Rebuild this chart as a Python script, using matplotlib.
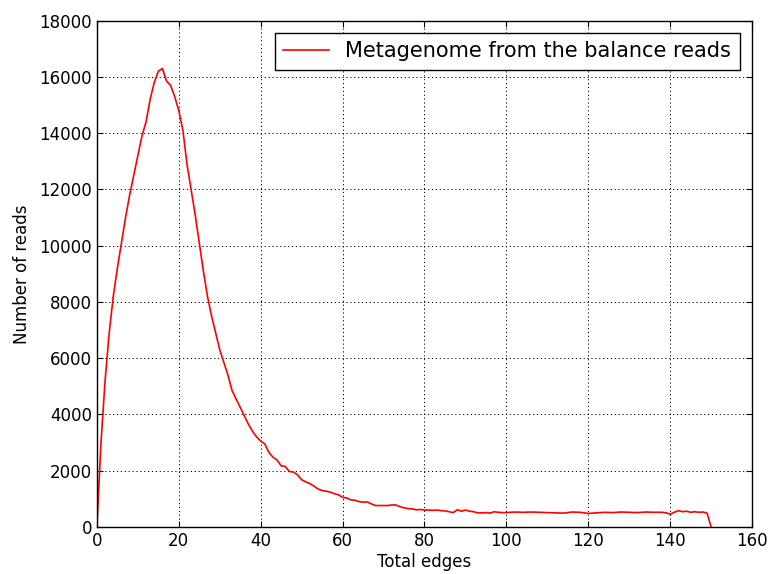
import matplotlib
matplotlib.use("Agg")
import matplotlib.pyplot as plt

# read counts per total-edge value
edges = [0, 1, 2, 3, 4, 5, 6, 7, 8, 9, 10, 11, 12, 13, 14, 15, 16, 17, 18, 19,
         20, 21, 22, 23, 24, 25, 26, 27, 28, 29, 30, 31, 32, 33, 34, 35, 36, 37, 38, 39,
         40, 41, 42, 43, 44, 45, 46, 47, 48, 49, 50, 51, 52, 53, 54, 55, 56, 57, 58, 59,
         60, 61, 62, 63, 64, 65, 66, 67, 68, 69, 70, 71, 72, 73, 74, 75, 76, 77, 78, 79,
         80, 81, 82, 83, 84, 85, 86, 87, 88, 89, 90, 91, 92, 93, 94, 95, 96, 97, 98, 99,
         100, 102, 104, 106, 108, 110, 112, 114, 116, 118, 120, 122, 124, 126, 128,
         130, 132, 134, 136, 138, 139, 140, 141, 142, 143, 144, 145, 146, 147, 148, 149, 150]
reads = [0, 3000, 5200, 6900, 8200, 9200, 10100, 11000, 11800, 12500,
         13200, 13900, 14400, 15200, 15800, 16200, 16300, 15850, 15700, 15300,
         14800, 14100, 12900, 12000, 11100, 10100, 9100, 8200, 7500, 6900,
         6300, 5850, 5400, 4850, 4550, 4250, 3950, 3650, 3400, 3200,
         3050, 2950, 2650, 2480, 2380, 2170, 2150, 1970, 1950, 1850,
         1680, 1600, 1540, 1450, 1350, 1290, 1270, 1235, 1180, 1140,
         1050, 1030, 960, 950, 900, 880, 890, 820, 760, 760,
         760, 760, 780, 780, 720, 680, 650, 640, 610, 620,
         600, 600, 590, 600, 580, 570, 540, 510, 610, 560,
         600, 560, 540, 500, 500, 510, 490, 540, 520, 510,
         510, 530, 520, 530, 520, 510, 500, 490, 530, 520,
         480, 500, 520, 510, 530, 520, 510, 530, 520, 520,
         500, 450, 520, 580, 540, 560, 520, 540, 520, 530, 490, 0]

plt.rcParams.update({"font.size": 12, "xtick.direction": "in", "ytick.direction": "in",
                     "xtick.top": True, "ytick.right": True,
                     "xtick.major.size": 4, "ytick.major.size": 4})

fig = plt.figure(figsize=(7.69, 5.74), dpi=100, facecolor="white")
ax = fig.add_axes([0.126, 0.082, 0.852, 0.882])
ax.plot(edges, reads, color="red", lw=1.2, label="Metagenome from the balance reads")
ax.set_xlim(0, 160)
ax.set_ylim(0, 18000)
ax.set_xticks(range(0, 161, 20))
ax.set_yticks(range(0, 18001, 2000))
ax.grid(True, color="black", linestyle=(0, (1.2, 2.8)), linewidth=0.7)
ax.set_xlabel("Total edges", labelpad=2)
ax.set_ylabel("Number of reads", labelpad=6)
for s in ax.spines.values():
    s.set_linewidth(1.0)
leg = ax.legend(loc="upper right", fontsize=15, fancybox=False, framealpha=1,
                edgecolor="black", borderaxespad=0.6, handlelength=2.2)
leg.get_frame().set_linewidth(1.0)
fig.savefig("out.png", dpi=100, facecolor="white")
